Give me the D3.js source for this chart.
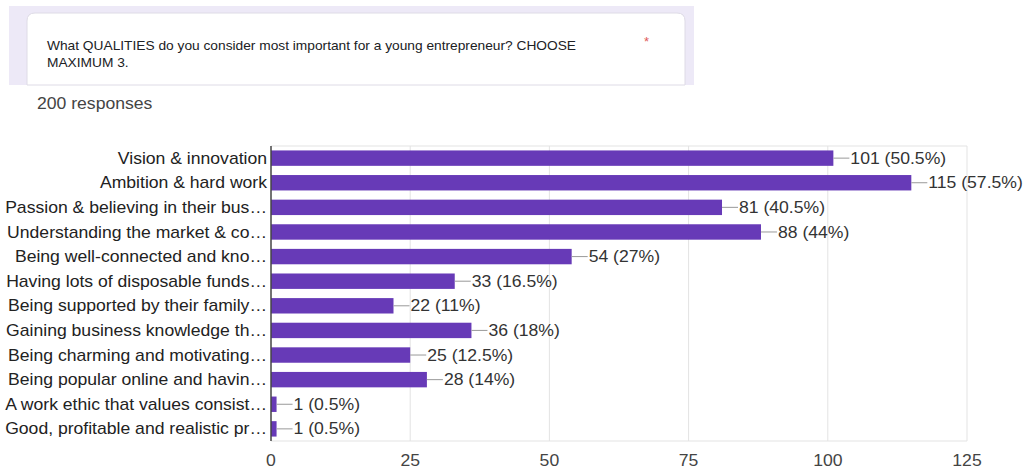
<!DOCTYPE html>
<html>
<head>
<meta charset="utf-8">
<script src="https://cdn.jsdelivr.net/npm/d3@7"></script>
<style>
  body { margin: 0; background: #fff; }
  text { font-family: Arial, "Liberation Sans", sans-serif; }
</style>
</head>
<body>
<div id="chart"></div>
<script>
// survey question + answers
var question = ["What QUALITIES do you consider most important for a young entrepreneur? CHOOSE", "MAXIMUM 3."];
var responsesText = "200 responses";

var categories = [
  "Vision & innovation",
  "Ambition & hard work",
  "Passion & believing in their bus\u2026",
  "Understanding the market & co\u2026",
  "Being well-connected and kno\u2026",
  "Having lots of disposable funds\u2026",
  "Being supported by their family\u2026",
  "Gaining business knowledge th\u2026",
  "Being charming and motivating\u2026",
  "Being popular online and havin\u2026",
  "A work ethic that values consist\u2026",
  "Good, profitable and realistic pr\u2026"
];
var counts = [101, 115, 81, 88, 54, 33, 22, 36, 25, 28, 1, 1];
var percents = ["50.5%", "57.5%", "40.5%", "44%", "27%", "16.5%", "11%", "18%", "12.5%", "14%", "0.5%", "0.5%"];
var ticks = [0, 25, 50, 75, 100, 125];

var W = 1024, H = 470;
var stretch = 1.1; // the screenshot is a bit wider than tall

var svg = d3.select("#chart").append("svg")
  .attr("width", W)
  .attr("height", H);

// text placed at (tx, ty), widened horizontally
var wide = function (sel, tx, ty) {
  return sel.attr("transform", function (d, i) {
    return "translate(" + tx(d, i) + "," + ty(d, i) + ") scale(" + stretch + ",1)";
  });
};

// form card header
svg.append("rect")
  .attr("x", 9).attr("y", 6)
  .attr("width", 685).attr("height", 79)
  .attr("fill", "#ede9f7");

svg.append("path")
  .attr("d", "M27,85 V21 Q27,13 35,13 H677 Q685,13 685,21 V85 Z")
  .attr("fill", "#fff")
  .attr("stroke", "#dedbe6")
  .attr("stroke-width", 1);

wide(svg.selectAll(".q")
  .data(question)
  .enter().append("text")
  .attr("class", "q")
  .attr("font-size", 12.5)
  .attr("fill", "#202124")
  .text(function (d) { return d; }),
  function () { return 47; },
  function (d, i) { return 50 + i * 17; });

svg.append("text")
  .attr("x", 644).attr("y", 46)
  .attr("font-size", 13)
  .attr("fill", "#e05a5a")
  .text("*");

wide(svg.append("text")
  .attr("font-size", 16)
  .attr("fill", "#444")
  .text(responsesText),
  function () { return 37; },
  function () { return 109; });

// chart
var x = d3.scaleLinear().domain([0, 125]).range([271, 967]);
var y = d3.scaleBand().domain(categories).range([146, 441])
  .paddingInner(0.374).paddingOuter(0.18);

var plotTop = 146, plotBottom = 441;

svg.selectAll(".grid")
  .data(ticks.slice(1))
  .enter().append("line")
  .attr("class", "grid")
  .attr("x1", function (d) { return x(d); })
  .attr("x2", function (d) { return x(d); })
  .attr("y1", plotTop).attr("y2", plotBottom)
  .attr("stroke", "#e3e3e3");

svg.selectAll(".frame")
  .data([plotTop, plotBottom])
  .enter().append("line")
  .attr("class", "frame")
  .attr("x1", x(0)).attr("x2", x(125))
  .attr("y1", function (d) { return d; })
  .attr("y2", function (d) { return d; })
  .attr("stroke", "#e3e3e3");

svg.selectAll(".bar")
  .data(counts)
  .enter().append("rect")
  .attr("class", "bar")
  .attr("x", x(0))
  .attr("y", function (d, i) { return y(categories[i]); })
  .attr("width", function (d) { return x(d) - x(0); })
  .attr("height", y.bandwidth())
  .attr("fill", "#673ab7");

svg.append("line")
  .attr("x1", x(0)).attr("x2", x(0))
  .attr("y1", plotTop).attr("y2", plotBottom)
  .attr("stroke", "#444")
  .attr("stroke-width", 1.5);

var mid = function (i) { return y(categories[i]) + y.bandwidth() / 2; };

// category labels
wide(svg.selectAll(".cat")
  .data(categories)
  .enter().append("text")
  .attr("class", "cat")
  .attr("dy", "0.35em")
  .attr("text-anchor", "end")
  .attr("font-size", 16)
  .attr("fill", "#222")
  .text(function (d) { return d; }),
  function () { return 267; },
  function (d, i) { return mid(i); });

// value callouts
svg.selectAll(".lead")
  .data(counts)
  .enter().append("line")
  .attr("class", "lead")
  .attr("x1", function (d) { return x(d); })
  .attr("x2", function (d) { return x(d) + 16; })
  .attr("y1", function (d, i) { return mid(i); })
  .attr("y2", function (d, i) { return mid(i); })
  .attr("stroke", "#999");

wide(svg.selectAll(".val")
  .data(counts)
  .enter().append("text")
  .attr("class", "val")
  .attr("dy", "0.35em")
  .attr("font-size", 16)
  .attr("fill", "#333")
  .text(function (d, i) { return d + " (" + percents[i] + ")"; }),
  function (d) { return x(d) + 17; },
  function (d, i) { return mid(i); });

// x ticks
wide(svg.selectAll(".tick")
  .data(ticks)
  .enter().append("text")
  .attr("class", "tick")
  .attr("text-anchor", "middle")
  .attr("font-size", 16)
  .attr("fill", "#444")
  .text(function (d) { return d; }),
  function (d) { return x(d); },
  function () { return 466; });
</script>
</body>
</html>
